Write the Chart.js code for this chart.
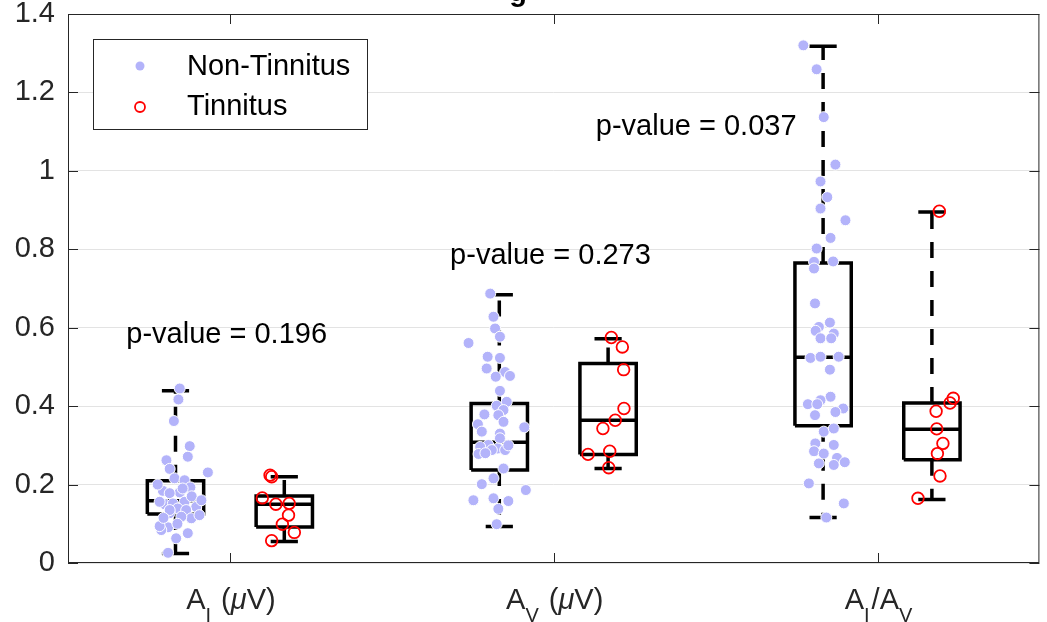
<!DOCTYPE html>
<html>
<head>
<meta charset="utf-8">
<script src="https://cdn.jsdelivr.net/npm/chart.js@4.4.1/dist/chart.umd.min.js"></script>
<style>
  html, body { margin: 0; background: #fff; }
  #wrap { width: 1047px; height: 622px; }
</style>
</head>
<body>
<div id="wrap"><canvas id="boxes"></canvas></div>
<script>
/* Box plots with jittered points */
const FONT = '"Liberation Sans", Arial, Helvetica, sans-serif';

const yTicks = [0, 0.2, 0.4, 0.6, 0.8, 1.0, 1.2, 1.4];
const seriesNames = ['Non-Tinnitus', 'Tinnitus'];
// label parts: [text, style]  sub = subscript, it = italic
const categoryLabels = [
  [['A'], ['I', 'sub'], [' ('], ['\u03bc', 'it'], ['V)']],
  [['A'], ['V', 'sub'], [' ('], ['\u03bc', 'it'], ['V)']],
  [['A'], ['I', 'sub'], ['/A'], ['V', 'sub']]
];
const pValues = ['0.196', '0.273', '0.037'];

// box statistics per category
const ntLow = [0.024, 0.093, 0.116];
const ntQ1  = [0.125, 0.237, 0.350];
const ntMed = [0.159, 0.308, 0.525];
const ntQ3  = [0.210, 0.407, 0.765];
const ntHigh = [0.439, 0.684, 1.318];

const tLow = [0.055, 0.241, 0.162];
const tQ1  = [0.092, 0.277, 0.263];
const tMed = [0.150, 0.364, 0.341];
const tQ3  = [0.171, 0.509, 0.408];
const tHigh = [0.220, 0.572, 0.895];

// Non-Tinnitus points (x is the jittered position, y the value)
const ntX1 = [0.845, 0.841, 0.827, 0.876, 0.870, 0.804, 0.814, 0.932, 0.829, 0.860, 0.793, 0.845, 0.878, 0.814,
  0.798, 0.824, 0.860, 0.839, 0.896, 0.865, 0.814, 0.881, 0.906, 0.850, 0.809, 0.788, 0.870, 0.834, 0.809,
  0.783, 0.783, 0.814, 0.777, 0.882, 0.838, 0.912, 0.795, 0.854];
const ntY1 = [0.445, 0.417, 0.362, 0.298, 0.271, 0.262, 0.240, 0.231, 0.216, 0.211, 0.184, 0.180, 0.193, 0.178,
  0.150, 0.152, 0.156, 0.139, 0.143, 0.135, 0.127, 0.114, 0.122, 0.118, 0.091, 0.084, 0.076, 0.063, 0.026,
  0.156, 0.094, 0.135, 0.200, 0.170, 0.100, 0.160, 0.115, 0.190];
const ntX2 = [1.804, 1.814, 1.819, 1.834, 1.737, 1.796, 1.834, 1.793, 1.850, 1.821, 1.865, 1.834, 1.855, 1.824,
  1.845, 1.786, 1.829, 1.845, 1.766, 1.909, 1.778, 1.834, 1.834, 1.798, 1.773, 1.827, 1.850, 1.809, 1.768,
  1.845, 1.814, 1.778, 1.914, 1.752, 1.814, 1.860, 1.829, 1.824, 1.789, 1.860];
const ntY2 = [0.687, 0.628, 0.598, 0.577, 0.561, 0.526, 0.523, 0.496, 0.487, 0.475, 0.477, 0.439, 0.411, 0.401,
  0.390, 0.379, 0.377, 0.360, 0.354, 0.346, 0.335, 0.330, 0.318, 0.301, 0.296, 0.292, 0.288, 0.288, 0.278,
  0.241, 0.216, 0.201, 0.186, 0.160, 0.165, 0.158, 0.138, 0.099, 0.280, 0.300];
const ntX3 = [2.771, 2.812, 2.834, 2.870, 2.824, 2.845, 2.824, 2.901, 2.855, 2.812, 2.804, 2.863, 2.804, 2.807,
  2.853, 2.819, 2.865, 2.809, 2.824, 2.857, 2.793, 2.824, 2.880, 2.853, 2.855, 2.824, 2.785, 2.814, 2.894,
  2.870, 2.807, 2.834, 2.865, 2.808, 2.865, 2.804, 2.834, 2.875, 2.819, 2.865, 2.899, 2.788, 2.896, 2.842];
const ntY3 = [1.320, 1.259, 1.137, 1.016, 0.973, 0.933, 0.904, 0.874, 0.829, 0.802, 0.768, 0.769, 0.751, 0.662,
  0.613, 0.602, 0.585, 0.592, 0.573, 0.573, 0.523, 0.526, 0.526, 0.493, 0.424, 0.415, 0.405, 0.405, 0.394,
  0.385, 0.377, 0.335, 0.343, 0.305, 0.301, 0.285, 0.279, 0.268, 0.254, 0.250, 0.257, 0.203, 0.152, 0.116];

// Tinnitus points
const tX1 = [1.124, 1.129, 1.142, 1.183, 1.100, 1.181, 1.162, 1.199, 1.129];
const tY1 = [0.224, 0.220, 0.150, 0.152, 0.166, 0.122, 0.099, 0.078, 0.057];
const tX2 = [2.178, 2.212, 2.216, 2.217, 2.190, 2.152, 2.106, 2.173, 2.170];
const tY2 = [0.575, 0.551, 0.493, 0.394, 0.364, 0.343, 0.277, 0.285, 0.243];
const tX3 = [3.191, 3.234, 3.224, 3.181, 3.183, 3.202, 3.185, 3.193, 3.125];
const tY3 = [0.897, 0.420, 0.408, 0.387, 0.342, 0.305, 0.279, 0.222, 0.165];

const ntColor = '#b3b3fa';
const tColor = '#ff0000';
const boxOffset = 0.168;
const boxHalf = 0.087;
const capHalf = 0.042;

function toPoints(xs, ys) {
  return xs.map((x, i) => ({ x: x, y: ys[i] }));
}

function lineSet(data, dashed) {
  return {
    data: data,
    showLine: true,
    pointRadius: 0,
    pointHoverRadius: 0,
    borderColor: '#000',
    borderWidth: 3.5,
    borderDash: dashed ? [16, 13] : [],
    borderJoinStyle: 'miter',
    fill: false,
    order: 2
  };
}

function boxSets(c, lo, q1, med, q3, hi) {
  return [
    lineSet([{x: c - boxHalf, y: q1}, {x: c + boxHalf, y: q1}, {x: c + boxHalf, y: q3},
             {x: c - boxHalf, y: q3}, {x: c - boxHalf, y: q1}], false),
    lineSet([{x: c - boxHalf, y: med}, {x: c + boxHalf, y: med}], false),
    lineSet([{x: c, y: q3}, {x: c, y: hi}], true),
    lineSet([{x: c, y: q1}, {x: c, y: lo}], true),
    lineSet([{x: c - capHalf, y: hi}, {x: c + capHalf, y: hi}], false),
    lineSet([{x: c - capHalf, y: lo}, {x: c + capHalf, y: lo}], false)
  ];
}

const datasets = [
  {
    label: seriesNames[0],
    data: toPoints(ntX1, ntY1).concat(toPoints(ntX2, ntY2), toPoints(ntX3, ntY3)),
    pointRadius: 5.5,
    pointBackgroundColor: ntColor,
    pointBorderColor: '#ffffff',
    pointBorderWidth: 1,
    order: 0
  },
  {
    label: seriesNames[1],
    data: toPoints(tX1, tY1).concat(toPoints(tX2, tY2), toPoints(tX3, tY3)),
    pointRadius: 5.8,
    pointBackgroundColor: 'rgba(0,0,0,0)',
    pointBorderColor: tColor,
    pointBorderWidth: 1.8,
    order: 0
  }
];
categoryLabels.forEach((_, i) => {
  datasets.push(...boxSets(i + 1 - boxOffset, ntLow[i], ntQ1[i], ntMed[i], ntQ3[i], ntHigh[i]));
  datasets.push(...boxSets(i + 1 + boxOffset, tLow[i], tQ1[i], tMed[i], tQ3[i], tHigh[i]));
});

// where the p-value notes sit (data units)
const noteAt = [{x: 0.99, y: 0.581}, {x: 1.99, y: 0.782}, {x: 2.44, y: 1.113}];

function drawRich(ctx, parts, cx, baseY) {
  const fontFor = p => (p[1] === 'it' ? 'italic ' : '') + (p[1] === 'sub' ? '20px ' : '29px ') + FONT;
  let total = 0;
  parts.forEach(p => { ctx.font = fontFor(p); total += ctx.measureText(p[0]).width; });
  let px = cx - total / 2;
  parts.forEach(p => {
    ctx.font = fontFor(p);
    ctx.fillText(p[0], px, baseY + (p[1] === 'sub' ? 13 : 0));
    px += ctx.measureText(p[0]).width + (p[1] === 'sub' ? 2 : 0);
  });
}

const matlabAxes = {
  id: 'matlabAxes',
  afterDraw(chart) {
    const { ctx, chartArea: a } = chart;
    const x = chart.scales.x, y = chart.scales.y;
    ctx.save();
    ctx.strokeStyle = '#262626';
    ctx.lineWidth = 1;
    ctx.strokeRect(a.left + 0.5, a.top + 0.5, a.right - a.left - 1, a.bottom - a.top - 1);
    ctx.beginPath();
    yTicks.forEach(v => {
      const py = Math.round(y.getPixelForValue(v)) + 0.5;
      ctx.moveTo(a.left, py); ctx.lineTo(a.left + 10, py);
      ctx.moveTo(a.right, py); ctx.lineTo(a.right - 10, py);
    });
    categoryLabels.forEach((_, i) => {
      const px = Math.round(x.getPixelForValue(i + 1)) + 0.5;
      ctx.moveTo(px, a.bottom); ctx.lineTo(px, a.bottom - 10);
      ctx.moveTo(px, a.top); ctx.lineTo(px, a.top + 10);
    });
    ctx.stroke();

    ctx.fillStyle = '#262626';
    ctx.textAlign = 'left';
    ctx.textBaseline = 'alphabetic';
    categoryLabels.forEach((parts, i) => {
      drawRich(ctx, parts, x.getPixelForValue(i + 1), a.bottom + 46);
    });

    // p-value notes
    ctx.fillStyle = '#000';
    ctx.font = '29px ' + FONT;
    ctx.textAlign = 'center';
    ctx.textBaseline = 'middle';
    pValues.forEach((p, i) => {
      ctx.fillText('p-value = ' + p, x.getPixelForValue(noteAt[i].x), y.getPixelForValue(noteAt[i].y));
    });

    // clipped title, only the descender shows
    ctx.font = 'bold 29px ' + FONT;
    ctx.textBaseline = 'alphabetic';
    ctx.fillText('g', 518, 1);

    // legend
    const lx = a.left + 25, ly = a.top + 25;
    ctx.fillStyle = '#fff';
    ctx.fillRect(lx, ly, 274, 90);
    ctx.strokeStyle = '#262626';
    ctx.lineWidth = 1;
    ctx.strokeRect(lx + 0.5, ly + 0.5, 274, 90);
    ctx.beginPath();
    ctx.arc(lx + 47, ly + 27, 4.5, 0, Math.PI * 2);
    ctx.fillStyle = ntColor;
    ctx.fill();
    ctx.beginPath();
    ctx.arc(lx + 47, ly + 68, 5, 0, Math.PI * 2);
    ctx.strokeStyle = tColor;
    ctx.lineWidth = 1.8;
    ctx.stroke();
    ctx.fillStyle = '#000';
    ctx.font = '29px ' + FONT;
    ctx.textAlign = 'left';
    ctx.textBaseline = 'middle';
    ctx.fillText(seriesNames[0], lx + 94, ly + 28);
    ctx.fillText(seriesNames[1], lx + 94, ly + 68);
    ctx.restore();
  }
};

const ctx = document.getElementById('boxes').getContext('2d');
const chart = new Chart(ctx, {
  type: 'scatter',
  data: { datasets: datasets },
  options: {
    responsive: true,
    maintainAspectRatio: false,
    animation: false,
    layout: { padding: { top: 14, right: 4, bottom: 59, left: 0 } },
    plugins: {
      legend: { display: false },
      tooltip: { enabled: false }
    },
    scales: {
      x: { type: 'linear', min: 0.5, max: 3.5, display: false },
      y: {
        type: 'linear',
        min: 0,
        max: 1.4,
        afterBuildTicks: s => { s.ticks = yTicks.map(v => ({ value: v })); },
        afterFit: s => { s.width = 68; s.paddingTop = 0; s.paddingBottom = 0; },
        ticks: {
          font: { family: FONT, size: 29 },
          color: '#262626',
          padding: 13,
          callback: v => String(v)
        },
        grid: { color: '#e3e3e3', drawTicks: false },
        border: { display: false }
      }
    }
  },
  plugins: [matlabAxes]
});
</script>
</body>
</html>
